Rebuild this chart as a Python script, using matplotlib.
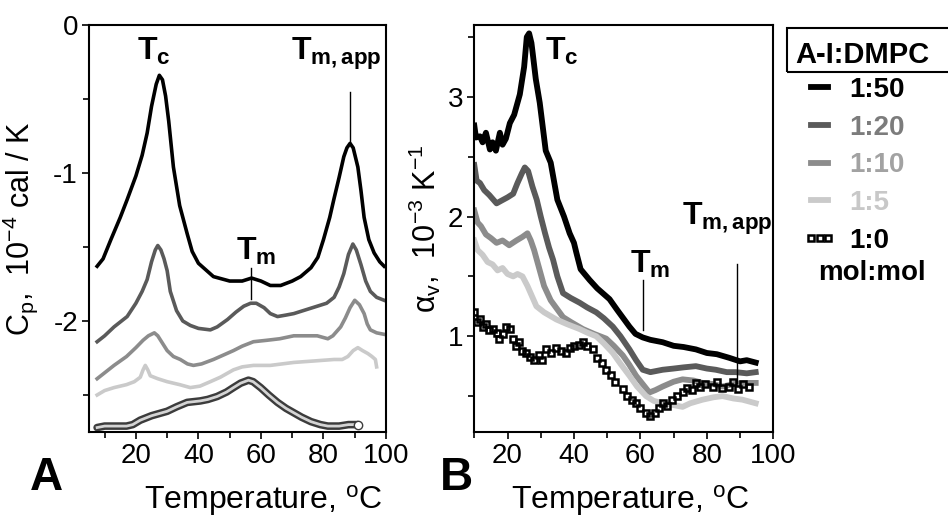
import numpy as np
import matplotlib.pyplot as plt
from matplotlib.patches import Rectangle
from matplotlib.ticker import MultipleLocator

plt.rcParams['font.family'] = ['Liberation Sans', 'DejaVu Sans']
plt.rcParams['mathtext.fontset'] = 'custom'
plt.rcParams['mathtext.rm'] = 'Liberation Sans'
plt.rcParams['mathtext.it'] = 'Liberation Sans:italic'
plt.rcParams['mathtext.bf'] = 'Liberation Sans:bold'
plt.rcParams['axes.unicode_minus'] = False

# ---- panel A : DSC heat capacity, 10^-4 cal/K (curves offset) ----
tA50 = [7.6, 9.5, 12, 15, 17.2, 20, 22, 23.6, 25, 26.5, 27.5, 28.5, 29.5, 30.5, 32, 34, 36.4, 38, 40,
        44.8, 50, 54, 57, 60, 63, 66.3, 70, 72.7, 76, 78.2, 80, 82, 83.3, 85, 86.5, 87.5, 88.5, 89.5,
        91, 92, 93, 94.5, 96.2, 98, 99.4]
cpA50 = [-1.63, -1.58, -1.45, -1.30, -1.18, -1.02, -0.88, -0.73, -0.55, -0.40, -0.34, -0.37, -0.48,
         -0.65, -0.96, -1.22, -1.41, -1.53, -1.61, -1.70, -1.73, -1.73, -1.71, -1.73, -1.76, -1.76,
         -1.73, -1.70, -1.64, -1.57, -1.45, -1.30, -1.18, -1.03, -0.89, -0.83, -0.80, -0.83, -0.96,
         -1.12, -1.30, -1.45, -1.54, -1.60, -1.63]

tA20 = [7.6, 10, 13, 17.2, 20, 22, 23.6, 25, 26.2, 27, 28, 29, 30, 31, 33, 35, 37.4, 40, 43.8, 46,
        49.3, 52, 54.5, 56.7, 58.5, 61, 63, 65.3, 68, 70.5, 75, 78, 81, 83.4, 85, 86.5, 88, 89.4,
        90.5, 92, 93.5, 95, 97, 99.4]
cpA20 = [-2.14, -2.10, -2.04, -1.97, -1.88, -1.80, -1.72, -1.60, -1.52, -1.49, -1.52, -1.58, -1.66,
         -1.80, -1.93, -2.00, -2.03, -2.05, -2.06, -2.04, -1.99, -1.94, -1.90, -1.88, -1.88, -1.91,
         -1.95, -1.97, -1.96, -1.95, -1.92, -1.90, -1.88, -1.84, -1.77, -1.68, -1.55, -1.48, -1.52,
         -1.62, -1.73, -1.80, -1.84, -1.86]

tA10 = [7.6, 10, 13, 17, 20, 22.3, 24, 25.9, 27, 28.5, 30, 32, 34.2, 36.5, 38.4, 41, 44.8, 48, 51.2,
        54, 57.6, 62, 66, 70.5, 75, 78, 81.4, 83, 85.5, 87, 88.5, 90, 91.5, 93, 94, 95, 97, 99.4]
cpA10 = [-2.39, -2.35, -2.30, -2.24, -2.18, -2.13, -2.10, -2.08, -2.10, -2.15, -2.20, -2.24, -2.26,
         -2.29, -2.30, -2.29, -2.26, -2.23, -2.20, -2.17, -2.14, -2.13, -2.12, -2.10, -2.10, -2.10,
         -2.12, -2.10, -2.04, -1.98, -1.91, -1.86, -1.89, -1.95, -2.02, -2.06, -2.08, -2.09]

tA5 = [7.6, 10, 13, 17, 19.5, 21.4, 22.3, 23, 23.8, 24.6, 27, 30, 34, 37.4, 40.5, 43.8, 47, 51.2, 54,
       57.6, 63, 70.5, 77, 83.4, 86, 87.8, 89.5, 91, 92.5, 94.2, 95.5, 96.6, 97]
cpA5 = [-2.50, -2.47, -2.45, -2.43, -2.41, -2.38, -2.33, -2.30, -2.33, -2.37, -2.39, -2.41, -2.43,
        -2.45, -2.44, -2.41, -2.38, -2.33, -2.31, -2.30, -2.30, -2.28, -2.27, -2.26, -2.26, -2.24,
        -2.20, -2.18, -2.20, -2.22, -2.24, -2.26, -2.31]

tA0 = [7.6, 10, 13, 17, 19, 21.4, 25, 30, 33, 36.4, 40.6, 43, 46, 49, 51.2, 53.5, 56, 57.5, 59.9,
       62.5, 65.3, 68, 70.5, 73, 76, 79, 81.4, 85, 88, 91]
cpA0 = [-2.72, -2.71, -2.71, -2.71, -2.70, -2.67, -2.64, -2.61, -2.58, -2.55, -2.54, -2.53, -2.51,
        -2.48, -2.45, -2.42, -2.40, -2.41, -2.45, -2.50, -2.55, -2.59, -2.62, -2.65, -2.68, -2.70,
        -2.71, -2.71, -2.70, -2.70]

# ---- panel B : expansion coefficient, 10^-3 K^-1 ----
tB50 = [10, 10.5, 11.7, 12.5, 13.5, 14.7, 15.5, 16.5, 17.7, 18.5, 19.5, 20.7, 22, 23.7, 25, 25.8,
        26.5, 27.2, 27.6, 28.5, 29.7, 31.5, 33, 35, 37, 38.7, 40, 40.7, 42, 44.7, 47, 50.7, 53,
        56.7, 58.5, 60.7, 63, 66.7, 70, 73, 76.7, 80, 83, 86.7, 90, 92, 94.7]
aB50 = [2.76, 2.66, 2.67, 2.62, 2.70, 2.56, 2.62, 2.55, 2.70, 2.60, 2.65, 2.78, 2.85, 3.02, 3.25,
        3.50, 3.53, 3.45, 3.36, 3.15, 2.95, 2.55, 2.45, 2.14, 2.00, 1.86, 1.78, 1.70, 1.56, 1.47,
        1.40, 1.31, 1.22, 1.08, 1.02, 0.99, 0.97, 0.95, 0.92, 0.91, 0.89, 0.86, 0.85, 0.82, 0.79,
        0.80, 0.78]

tB20 = [10, 10.7, 11.7, 13, 14.5, 16.7, 18, 20, 21.7, 23, 24.3, 25.2, 26.2, 27.5, 28.8, 30, 31.3,
        32.5, 33.7, 35, 36.7, 39, 41.7, 44, 46.7, 49, 51.7, 54, 56.7, 58.7, 60.7, 63, 66.7, 70,
        73, 76.7, 80, 82.7, 86, 88.7, 92, 94.7]
aB20 = [2.43, 2.30, 2.28, 2.22, 2.18, 2.11, 2.13, 2.16, 2.19, 2.28, 2.36, 2.41, 2.38, 2.25, 2.14,
        2.00, 1.86, 1.74, 1.64, 1.50, 1.36, 1.32, 1.28, 1.24, 1.20, 1.15, 1.08, 1.00, 0.89, 0.80,
        0.72, 0.70, 0.72, 0.73, 0.74, 0.75, 0.73, 0.72, 0.70, 0.70, 0.69, 0.70]

tB10 = [10, 11, 12, 13.5, 15, 16.7, 18.5, 20.5, 22.7, 24.5, 26, 27, 28, 29.7, 31, 33, 36.7, 39,
        42.7, 46, 49.7, 52, 54.7, 56.7, 58.7, 60.7, 62.7, 64.5, 66.7, 70, 72.7, 76, 78.7, 82,
        84.7, 88, 90.7, 94.7]
aB10 = [2.05, 1.95, 1.92, 1.85, 1.82, 1.78, 1.80, 1.76, 1.80, 1.83, 1.86, 1.80, 1.72, 1.55, 1.42,
        1.30, 1.16, 1.12, 1.06, 1.02, 0.98, 0.92, 0.84, 0.76, 0.67, 0.60, 0.53, 0.55, 0.58, 0.62,
        0.64, 0.63, 0.61, 0.60, 0.58, 0.60, 0.61, 0.61]

tB5 = [10, 11, 12.5, 14, 15.5, 17, 18.5, 20, 21.7, 23, 24.5, 26, 28.7, 31, 34.7, 38, 41.7, 44,
       46.7, 49, 51.7, 54, 56.7, 59, 61.7, 64, 66.7, 69, 72.7, 75, 78.7, 82, 84.7, 88, 90.7, 94.7]
aB5 = [1.80, 1.72, 1.68, 1.62, 1.60, 1.55, 1.57, 1.52, 1.50, 1.52, 1.50, 1.42, 1.25, 1.20, 1.14,
       1.10, 1.06, 1.03, 1.00, 0.94, 0.86, 0.77, 0.67, 0.58, 0.50, 0.46, 0.44, 0.43, 0.41, 0.44,
       0.47, 0.49, 0.50, 0.48, 0.47, 0.44]

tB0 = [10, 10.8, 11.7, 12.5, 13.5, 14.5, 15.5, 16.7, 17.5, 18.5, 19.5, 20.7, 21.5, 22.7, 23.5,
       24.5, 25.5, 26.7, 28, 29.5, 30.5, 31.7, 33, 34.5, 36, 37.5, 38.7, 40, 41.5, 42.7, 44, 45.7,
       47, 48.3, 49.7, 51, 52.5, 54.7, 56, 57.5, 58.7, 60, 61.7, 63, 64.5, 65.5, 66.7, 68, 69.5,
       71, 72.7, 74, 75.5, 76.7, 78, 79.5, 81.7, 83, 84.5, 86.7, 88, 89.5, 91, 92.7]
aB0 = [1.20, 1.12, 1.14, 1.08, 1.10, 1.05, 1.06, 1.03, 0.98, 1.02, 1.08, 1.06, 0.98, 0.92, 0.95,
       0.88, 0.86, 0.83, 0.80, 0.84, 0.80, 0.89, 0.86, 0.90, 0.88, 0.86, 0.90, 0.92, 0.93, 0.95,
       0.92, 0.89, 0.82, 0.78, 0.72, 0.68, 0.62, 0.56, 0.50, 0.47, 0.44, 0.40, 0.36, 0.33, 0.36,
       0.40, 0.44, 0.42, 0.47, 0.50, 0.53, 0.57, 0.55, 0.61, 0.58, 0.60, 0.58, 0.62, 0.57, 0.58,
       0.62, 0.56, 0.60, 0.58]

labels = ['1:50', '1:20', '1:10', '1:5', '1:0']
colors = ['#000000', '#5a5a5a', '#8c8c8c', '#cacaca']
text_colors = ['#000000', '#7c7c7c', '#a2a2a2', '#c8c8c8', '#000000']

fig = plt.figure(figsize=(9.48, 5.19), dpi=100)
axA = fig.add_axes([89/948, 1-432/519, 297/948, 407/519])
axB = fig.add_axes([474.3/948, 1-432/519, 299/948, 407/519])

# panel A
for t, cp, c in zip([tA50, tA20, tA10, tA5], [cpA50, cpA20, cpA10, cpA5], colors):
    axA.plot(t, cp, color=c, lw=2.6)
axA.plot(tA0, cpA0, color='#3c3c3c', lw=5.5, solid_capstyle='round')
axA.plot(tA0, cpA0, color='#d4d4d4', lw=2)
axA.plot(tA0[-1:], cpA0[-1:], 'o', ms=6, mfc='white', mec='#3c3c3c', mew=1)

axA.set_xlim(5, 100)
axA.set_ylim(-2.75, 0)
axA.set_xticks([20, 40, 60, 80, 100])
axA.set_yticks([-2, -1, 0])
axA.yaxis.set_minor_locator(MultipleLocator(0.5))
axA.xaxis.set_minor_locator(MultipleLocator(10))
axA.set_ylabel(r'C$_\mathrm{p}$,  10$^{-4}$ cal / K', fontsize=22)
axA.yaxis.set_label_coords(-0.165, 0.5)

tb = dict(fontsize=23, va='baseline', ha='left')
axA.text(20.4, -0.236, r'$\mathbf{T_c}$', **tb)
axA.text(69.6, -0.236, r'$\mathbf{T_{m,app}}$', **tb)
axA.text(51.9, -1.588, r'$\mathbf{T_m}$', **tb)
axA.plot([88.4, 88.4], [-0.45, -0.80], color='black', lw=1)
axA.plot([56.7, 56.7], [-1.64, -1.85], color='black', lw=1)

# panel B
handles = []
for t, a, c, lab in zip([tB50, tB20, tB10, tB5], [aB50, aB20, aB10, aB5], colors, labels):
    ln, = axB.plot(t, a, color=c, lw=4.2, label=lab)
    handles.append(ln)
axB.lines[0].set_zorder(3)
ln, = axB.plot(tB0, aB0, ls='none', marker='s', ms=4.5, mfc='none', mec='black', mew=1.8,
               label=labels[4])
handles.append(ln)

axB.set_xlim(10, 100)
axB.set_ylim(0.2, 3.6)
axB.set_xticks([20, 40, 60, 80, 100])
axB.set_yticks([1, 2, 3])
axB.yaxis.set_minor_locator(MultipleLocator(0.5))
axB.xaxis.set_minor_locator(MultipleLocator(10))
axB.set_ylabel('α$_\\mathrm{v}$,  10$^{-3}$ K$^{-1}$', fontsize=22)
axB.yaxis.set_label_coords(-0.105, 0.5)

axB.text(31.2, 3.306, r'$\mathbf{T_c}$', **tb)
axB.text(72.6, 1.931, r'$\mathbf{T_{m,app}}$', **tb)
axB.text(56.8, 1.53, r'$\mathbf{T_m}$', **tb)
axB.plot([60.7, 60.7], [1.47, 1.05], color='black', lw=1)
axB.plot([89.2, 89.2], [1.60, 0.61], color='black', lw=1)

for ax, xc in [(axA, 0.586), (axB, 0.52)]:
    ax.set_xlabel('Temperature, $^\\mathrm{o}$C', fontsize=23)
    ax.xaxis.set_label_coords(xc, -0.125)
    ax.tick_params(which='both', direction='out', labelsize=20, width=1.2, top=False, right=False)
    ax.tick_params(which='major', length=5, pad=3)
    ax.tick_params(which='minor', length=4)
    for s in ax.spines.values():
        s.set_linewidth(1.5)

fig.text(30/948, 1-490/519, 'A', fontsize=33, fontweight='bold', va='baseline')
fig.text(440/948, 1-490/519, 'B', fontsize=33, fontweight='bold', va='baseline')

# legend
fig.patches.append(Rectangle((787/948, 1-72/519), 0.25, 44/519, transform=fig.transFigure,
                             fill=False, lw=1.5, ec='black'))
fig.text(795/948, 1-63/519, 'A-I:DMPC', fontsize=21, fontweight='bold', va='baseline')
leg = fig.legend(handles, labels, loc='upper left', bbox_to_anchor=(803/948, 1-77/519),
                 frameon=False, prop={'weight': 'bold', 'size': 20}, handlelength=1.2,
                 handletextpad=0.45, labelspacing=0.42, borderpad=0, borderaxespad=0,
                 numpoints=3)
for txt, c in zip(leg.get_texts(), text_colors):
    txt.set_color(c)
fig.text(818/948, 1-280/519, 'mol:mol', fontsize=20, fontweight='bold', va='baseline')

fig.savefig('out.png', dpi=100)
